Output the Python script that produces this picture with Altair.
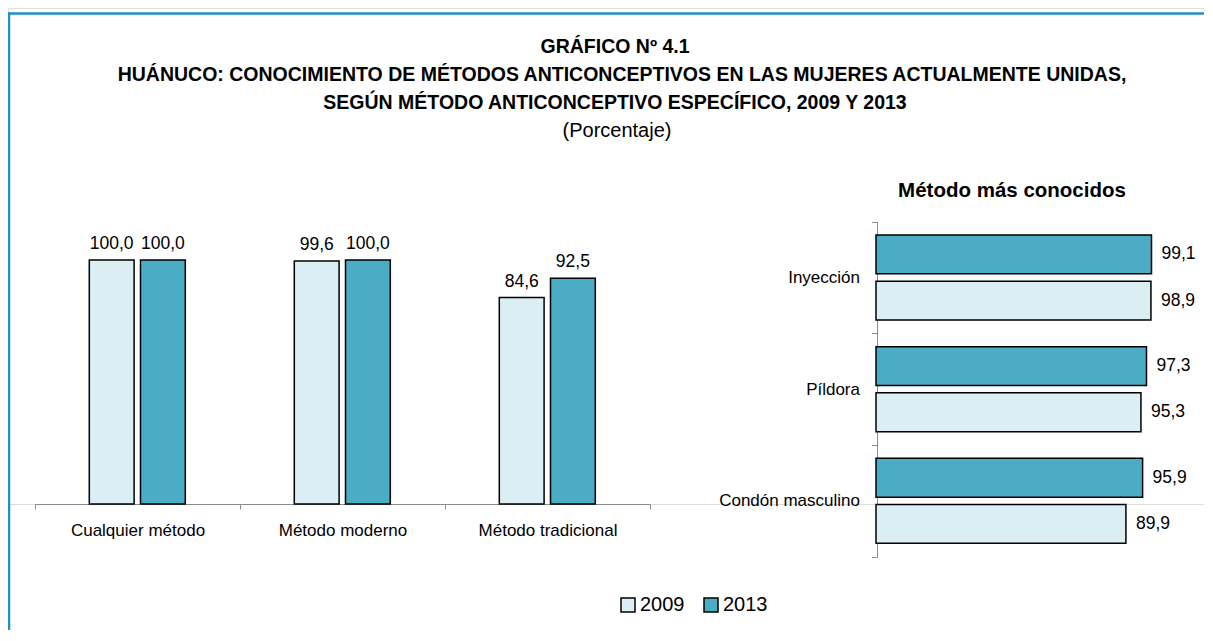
import altair as alt
import pandas as pd

# ---------------- data ----------------
years = ["2009", "2013"]
colors = ["#DAEEF3", "#4BACC6"]

left_methods = ["Cualquier método", "Método moderno", "Método tradicional"]
left_2009 = [100.0, 99.6, 84.6]
left_2013 = [100.0, 100.0, 92.5]

right_methods = ["Inyección", "Píldora", "Condón masculino"]
right_2009 = [98.9, 95.3, 89.9]
right_2013 = [99.1, 97.3, 95.9]

title_lines = [
    "GRÁFICO Nº 4.1",
    "HUÁNUCO: CONOCIMIENTO DE MÉTODOS ANTICONCEPTIVOS EN LAS MUJERES ACTUALMENTE UNIDAS,",
    "SEGÚN MÉTODO ANTICONCEPTIVO ESPECÍFICO, 2009 Y 2013",
]
subtitle = "(Porcentaje)"
right_title = "Método más conocidos"


def fmt(v):
    return f"{v:.1f}".replace(".", ",")


left_rows = []
for m, a, b in zip(left_methods, left_2009, left_2013):
    left_rows.append({"metodo": m, "anio": "2009", "valor": a, "etiqueta": fmt(a)})
    left_rows.append({"metodo": m, "anio": "2013", "valor": b, "etiqueta": fmt(b)})
left_df = pd.DataFrame(left_rows)

right_rows = []
for m, a, b in zip(right_methods, right_2009, right_2013):
    right_rows.append({"metodo": m, "anio": "2009", "valor": a, "etiqueta": fmt(a)})
    right_rows.append({"metodo": m, "anio": "2013", "valor": b, "etiqueta": fmt(b)})
right_df = pd.DataFrame(right_rows)

dummy = pd.DataFrame({"d": [0]})

FONT = "Liberation Sans, Arial, sans-serif"
FRAME = "#1f8fc4"
AXIS_GRAY = "#8c8c8c"
W = 1196
H = 496
PAD_BOTTOM = 126

color_enc = alt.Color(
    "anio:N",
    scale=alt.Scale(domain=years, range=colors),
    legend=alt.Legend(
        title=None,
        orient="none",
        legendX=610,
        legendY=587,
        direction="horizontal",
        symbolType="square",
        symbolSize=196,
        symbolStrokeColor="black",
        symbolStrokeWidth=1.5,
        labelFontSize=20,
        labelFont=FONT,
        labelColor="black",
        labelOffset=2,
        columnPadding=16,
    ),
)

# ---------------- left grouped bars ----------------
lx = alt.X(
    "metodo:N",
    sort=left_methods,
    scale=alt.Scale(range=[27, 642], paddingInner=0, paddingOuter=0),
    axis=alt.Axis(
        title=None,
        orient="bottom",
        labelAngle=0,
        tickBand="extent",
        domainColor=AXIS_GRAY,
        tickColor=AXIS_GRAY,
        tickSize=5,
        labelFontSize=17,
        labelFont=FONT,
        labelColor="black",
        labelPadding=13,
        grid=False,
    ),
)
lxo = alt.XOffset(
    "anio:N", sort=years,
    scale=alt.Scale(range=[54.3, 150.3], paddingInner=0.125, paddingOuter=0),
)
ly = alt.Y("valor:Q", stack=None,
           scale=alt.Scale(domain=[0, 100], range=[496, 252]), axis=None)

left_bars = alt.Chart(left_df).mark_bar(stroke="black", strokeWidth=1.5).encode(
    x=lx, xOffset=lxo, y=ly, color=color_enc
)
left_text = alt.Chart(left_df).mark_text(
    dy=-11, baseline="alphabetic", align="center", fontSize=17.5, font=FONT, color="black"
).encode(x=lx, xOffset=lxo, y=ly, text="etiqueta:N")
left_layer = alt.layer(left_bars, left_text)

# ---------------- right horizontal bars ----------------
rx = alt.X("valor:Q", stack=None,
           scale=alt.Scale(domain=[0, 100], range=[868, 1146]), axis=None)
ry = alt.Y(
    "metodo:N",
    sort=right_methods,
    scale=alt.Scale(range=[213.7, 548.7], paddingInner=0, paddingOuter=0),
    axis=alt.Axis(
        title=None,
        orient="left",
        offset=-869,
        tickBand="extent",
        domainColor=AXIS_GRAY,
        tickColor=AXIS_GRAY,
        tickSize=5.5,
        labelFontSize=17,
        labelFont=FONT,
        labelColor="black",
        labelPadding=12,
        labelLimit=300,
        grid=False,
    ),
)
ryo = alt.YOffset(
    "anio:N", sort=["2013", "2009"],
    scale=alt.Scale(range=[13.3, 98.3], paddingInner=0.16, paddingOuter=0),
)
right_bars = alt.Chart(right_df).mark_bar(stroke="black", strokeWidth=1.5).encode(
    x=rx, y=ry, yOffset=ryo, color=color_enc
)
right_text = alt.Chart(right_df).mark_text(
    dx=10, align="left", baseline="middle", fontSize=17.5, font=FONT, color="black"
).encode(x=rx, y=ry, yOffset=ryo, text="etiqueta:N")
right_layer = alt.layer(right_bars, right_text)

# ---------------- titles and frame ----------------
def text_line(txt, x, y, size, bold=True):
    return alt.Chart(dummy).mark_text(
        text=txt, fontSize=size, font=FONT, fontWeight="bold" if bold else "normal",
        align="center", baseline="alphabetic", color="black",
    ).encode(x=alt.value(x), y=alt.value(y))


titles = [
    text_line(title_lines[0], 607, 45, 19.5),
    text_line(title_lines[1], 614, 73, 19.5),
    text_line(title_lines[2], 607, 101, 19.5),
    text_line(subtitle, 609, 129, 20, bold=False),
    text_line(right_title, 1004, 189, 20.5),
]

frame_top = alt.Chart(dummy).mark_rule(color=FRAME, strokeWidth=2.5).encode(
    x=alt.value(0), x2=alt.value(W), y=alt.value(5.5)
)
frame_left = alt.Chart(dummy).mark_rule(color=FRAME, strokeWidth=2.5).encode(
    x=alt.value(1), y=alt.value(4.5), y2=alt.value(H + PAD_BOTTOM)
)

chart = alt.layer(
    left_layer, right_layer, frame_top, frame_left, *titles
).resolve_scale(
    x="independent", y="independent"
).resolve_axis(
    x="independent", y="independent"
).properties(
    width=W,
    height=H,
    autosize=alt.AutoSizeParams(type="none"),
    padding={"left": 0, "top": 0, "right": 0, "bottom": PAD_BOTTOM},
).configure_view(
    stroke=None
).configure(
    font=FONT, background="white"
)

chart.save("out.html", embed_options={"renderer": "svg", "actions": False})
